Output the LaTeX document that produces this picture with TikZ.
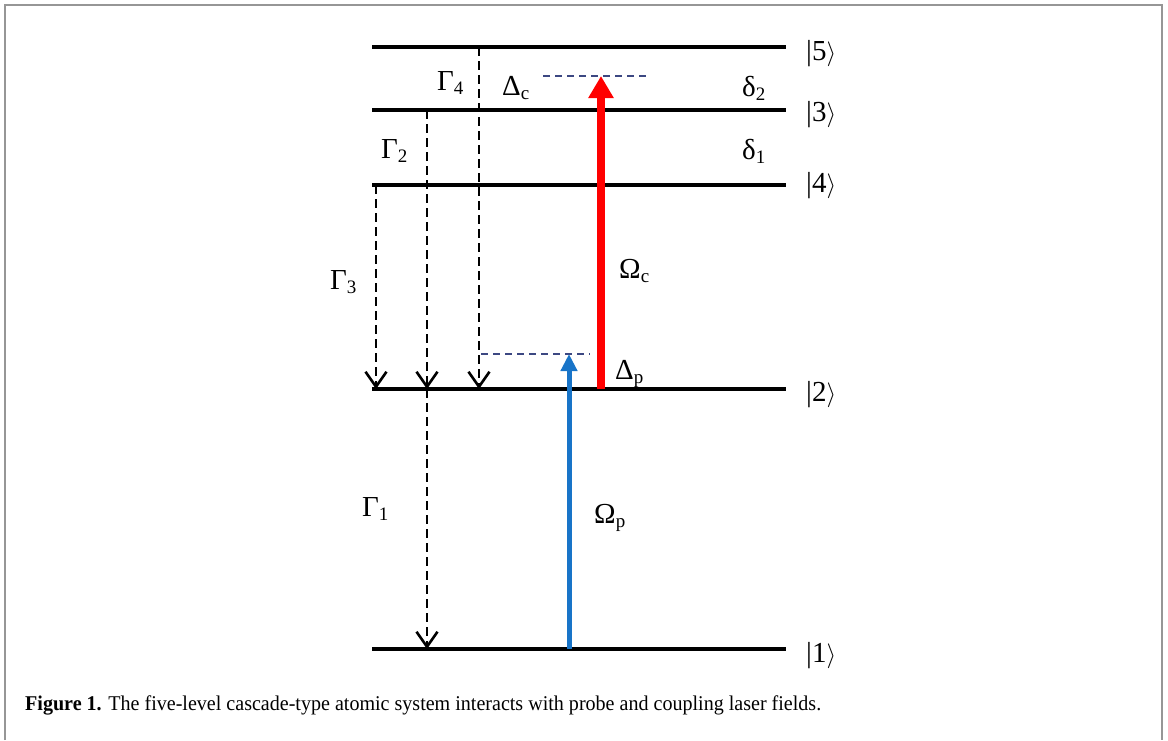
\documentclass[tikz,border=0pt]{standalone}
\usepackage{fontspec}
\setmainfont{Liberation Serif}
\usetikzlibrary{arrows.meta}
\definecolor{detcol}{RGB}{60,72,130}
\definecolor{probecol}{RGB}{24,116,200}
\definecolor{couplecol}{RGB}{255,0,0}
\definecolor{framecol}{RGB}{150,150,150}
\newcommand\sbx[1]{\raisebox{-4pt}{\fontsize{19}{19}\selectfont #1}}
\newcommand\ket[1]{{|}#1$\rangle$}
\begin{document}
\begin{tikzpicture}[x=1pt,y=-1pt,
 levelline/.style={line width=4pt},
 decay/.style={line width=2.8pt, dash pattern=on 9pt off 5pt, -{Straight Barb[length=15pt,width=21pt,line width=2.6pt]}},
 detuning/.style={line width=1.7pt, draw=detcol, dash pattern=on 7pt off 5pt},
 lbl/.style={font=\fontsize{29}{34}\selectfont, inner sep=0pt, anchor=base west},
 framebox/.style={line width=2pt, draw=framecol},
]
\useasboundingbox (0,0) rectangle (1168,740);
\draw[framebox] (5,740) -- (5,5) -- (1162,5) -- (1162,740);
% levels
\coordinate (L5a) at (372,47);  \coordinate (L5b) at (786,47);
\coordinate (L3a) at (372,110); \coordinate (L3b) at (786,110);
\coordinate (L4a) at (372,185); \coordinate (L4b) at (786,185);
\coordinate (L2a) at (372,389); \coordinate (L2b) at (786,389);
\coordinate (L1a) at (372,649); \coordinate (L1b) at (786,649);
\draw[levelline] (L5a) -- (L5b);
\draw[levelline] (L3a) -- (L3b);
\draw[levelline] (L4a) -- (L4b);
\draw[levelline] (L2a) -- (L2b);
\draw[levelline] (L1a) -- (L1b);
% ket labels
\node[lbl] (k5) at (806,60) {\ket{5}};
\node[lbl] (k3) at (806,121) {\ket{3}};
\node[lbl] (k4) at (806,192) {\ket{4}};
\node[lbl] (k2) at (806,401) {\ket{2}};
\node[lbl] (k1) at (806,662) {\ket{1}};
% decay coordinates
\coordinate (g4s) at (479,47);  \coordinate (g4e) at (479,389);
\coordinate (g2s) at (427,110); \coordinate (g2e) at (427,389);
\coordinate (g3s) at (376,185); \coordinate (g3e) at (376,389);
\coordinate (g1s) at (427,389); \coordinate (g1e) at (427,649);
\draw[decay] (g4s) -- (g4e);
\draw[decay] (g2s) -- (g2e);
\draw[decay] (g3s) -- (g3e);
\draw[decay] (g1s) -- (g1e);
% detuning lines
\coordinate (dps) at (481,354); \coordinate (dpe) at (590,354);
\coordinate (dcs) at (543,76);  \coordinate (dce) at (650,76);
\draw[detuning] (dps) -- (dpe);
\draw[detuning] (dcs) -- (dce);
% laser arrows
\coordinate (pb) at (569,649); \coordinate (pt) at (569,354);
\coordinate (cb) at (601,389); \coordinate (ct) at (601,76);
\draw[line width=5pt, draw=probecol, -{Triangle[length=17pt,width=16pt]}] (pb) -- (pt);
\draw[line width=8pt, draw=couplecol, -{Triangle[length=22pt,width=24pt]}] (cb) -- (ct);
% labels
\node[lbl] (G4) at (437,90) {Γ\sbx{4}};
\node[lbl] (Dc) at (502,95) {Δ\sbx{c}};
\node[lbl] (d2) at (742,96) {δ\sbx{2}};
\node[lbl] (G2) at (381,158) {Γ\sbx{2}};
\node[lbl] (d1) at (742,159) {δ\sbx{1}};
\node[lbl] (G3) at (330,289) {Γ\sbx{3}};
\node[lbl] (Oc) at (619,278) {Ω\sbx{c}};
\node[lbl] (Dp) at (615,379) {Δ\sbx{p}};
\node[lbl] (G1) at (362,516) {Γ\sbx{1}};
\node[lbl] (Op) at (594,523) {Ω\sbx{p}};
% caption
\node[inner sep=0pt, anchor=base west] (cap) at (25,710) {\scalebox{0.955}[1]{\fontsize{21}{24}\selectfont\textbf{Figure 1.} The five-level cascade-type atomic system interacts with probe and coupling laser fields.}};
\end{tikzpicture}
\end{document}
